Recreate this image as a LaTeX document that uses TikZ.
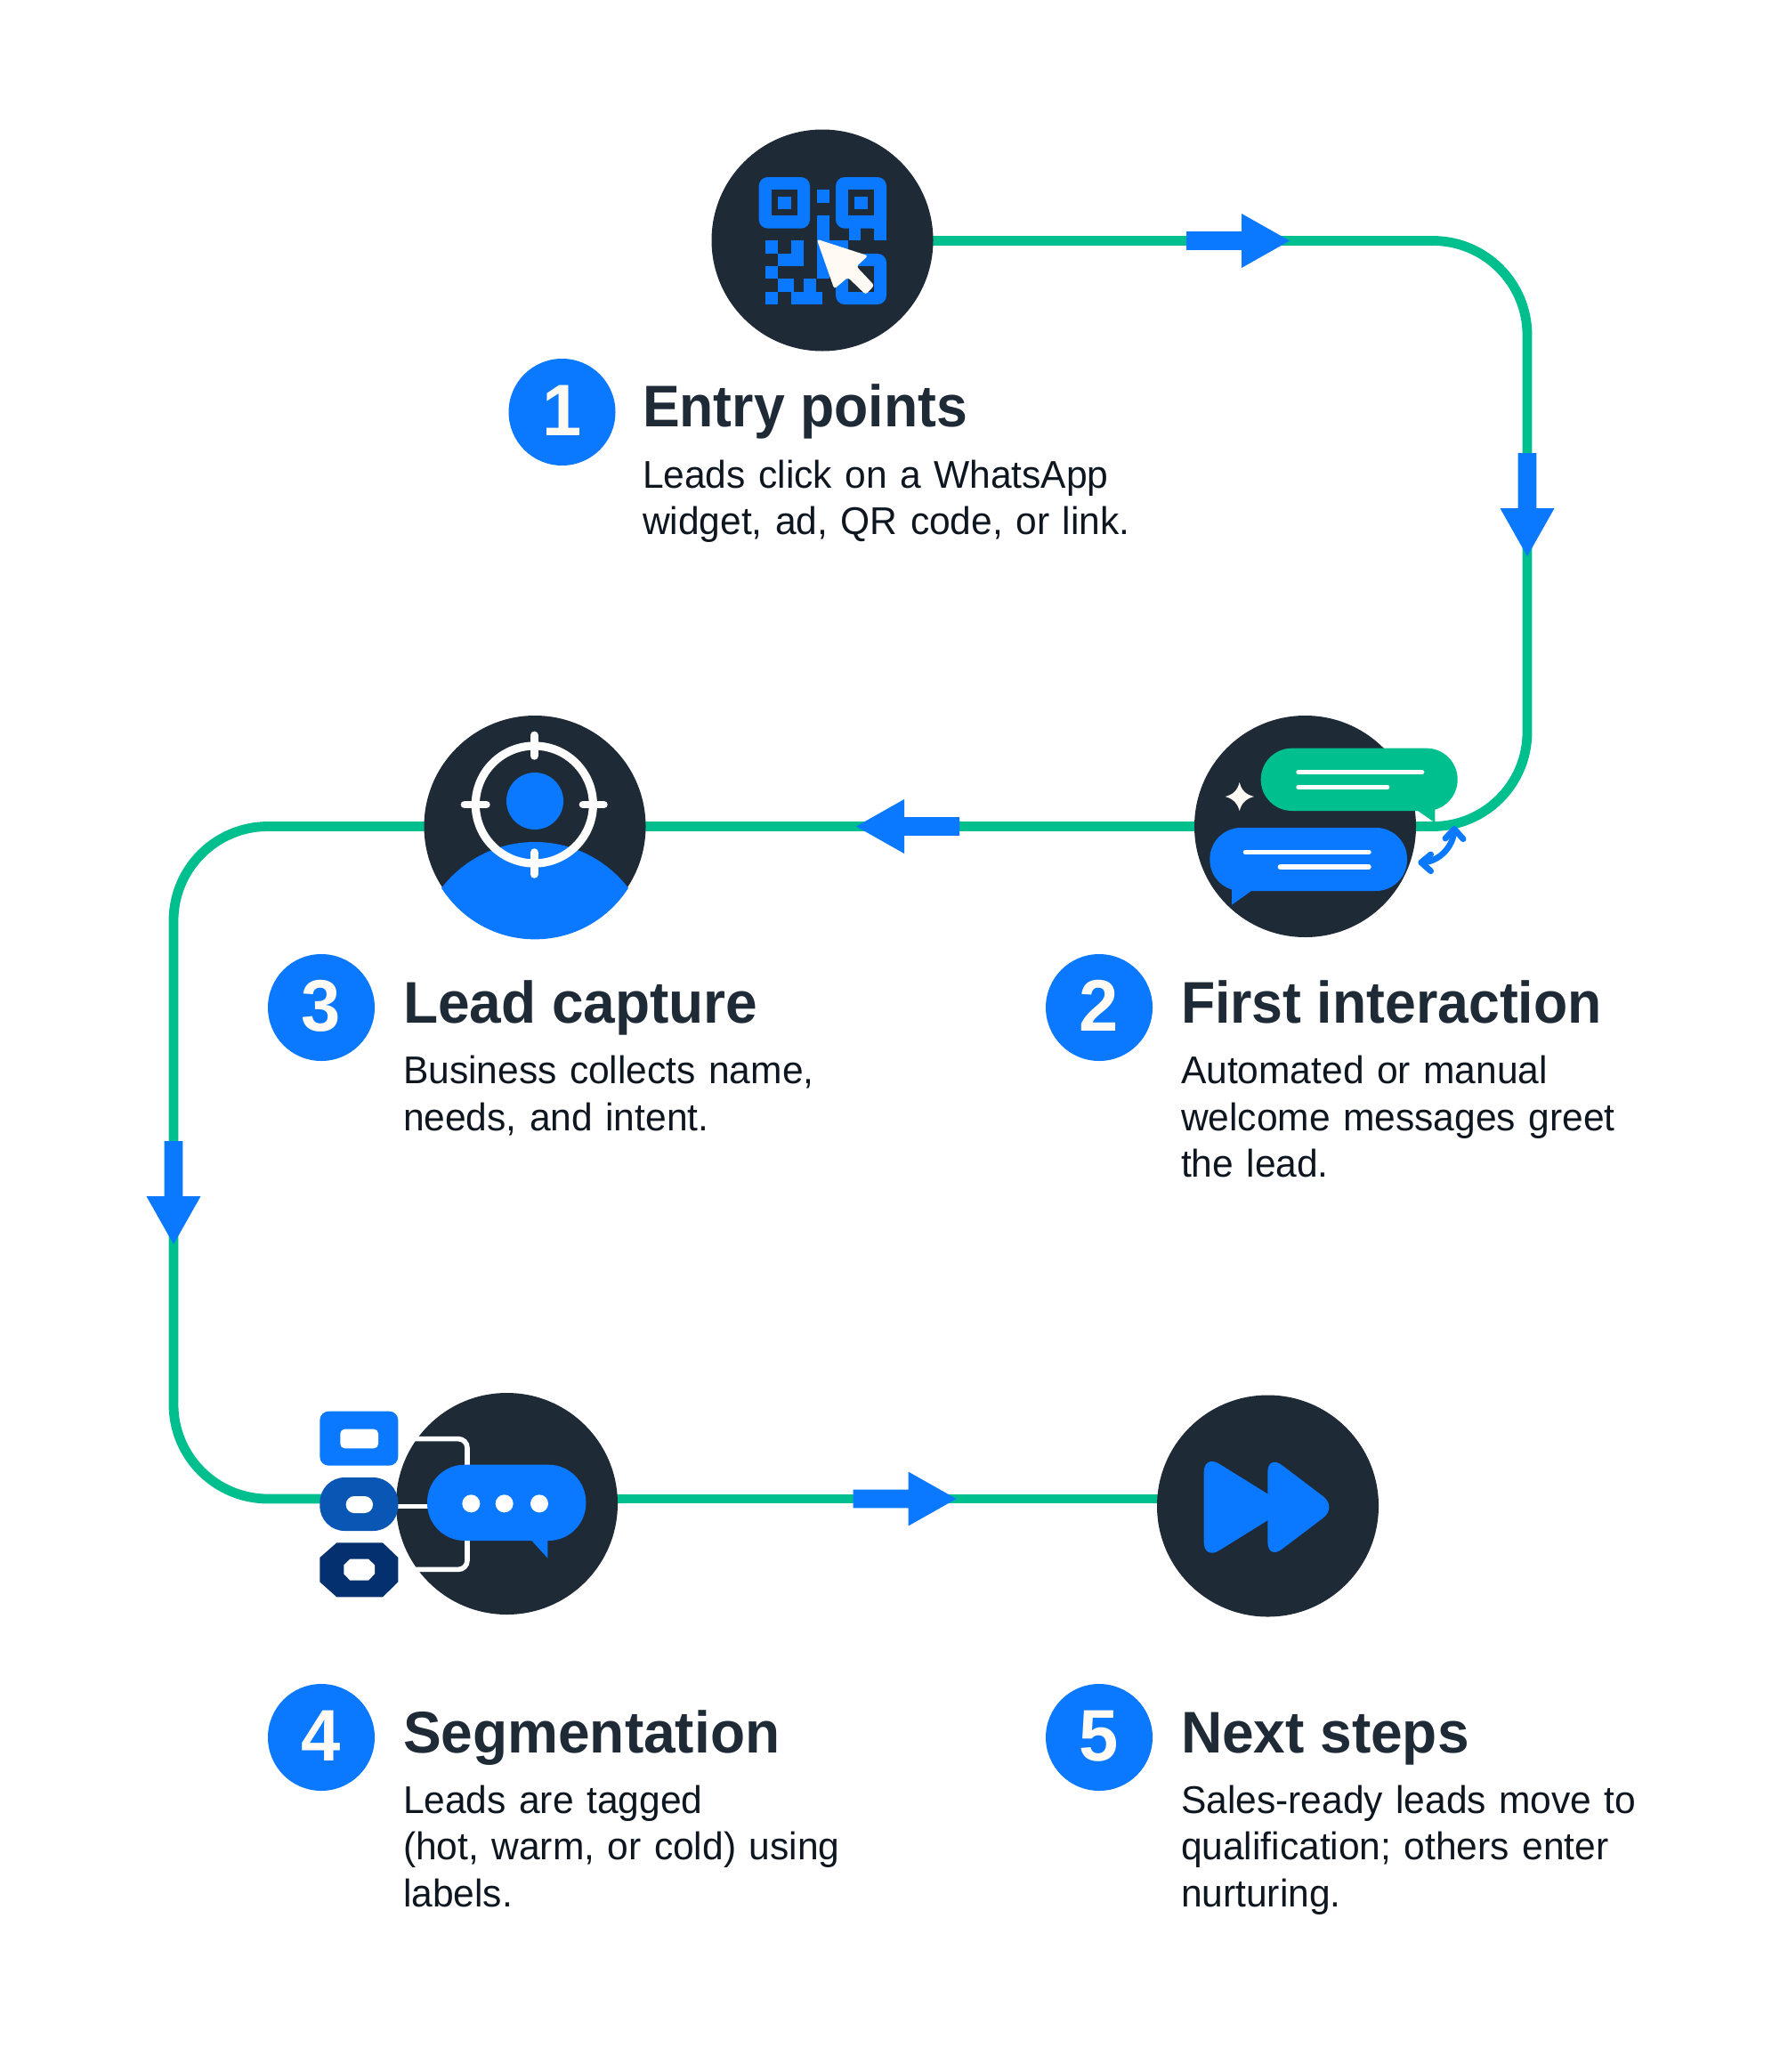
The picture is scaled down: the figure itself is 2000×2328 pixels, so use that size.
\documentclass[tikz,border=0pt]{standalone}
\usepackage{fontspec}
\setmainfont{Liberation Sans}[FakeStretch=0.98,WordSpace=0.9,BoldFeatures={FakeStretch=0.97,WordSpace=1}]
\newfontfamily\narrowhead{Liberation Sans}[BoldFeatures={FakeStretch=0.948}]
\definecolor{flowgreen}{HTML}{00BF8F}
\definecolor{mainblue}{HTML}{0A78FF}
\definecolor{midblue}{HTML}{0A56B5}
\definecolor{navy}{HTML}{04306F}
\definecolor{ink}{HTML}{1F2A37}
\definecolor{bodyink}{HTML}{0E1620}
\definecolor{cream}{HTML}{FFFAF3}
\tikzset{
  zu/.style={x=0.166667pt,y=-0.166667pt},
  flow/.style={draw=flowgreen,line width=5.4pt,rounded corners=53pt},
  disc/.style={circle,fill=ink,inner sep=0pt,outer sep=0pt,minimum size=124.5pt},
  badge/.style={circle,fill=mainblue,text=cream,inner sep=0pt,outer sep=0pt,minimum size=60pt,text depth=2pt,font=\fontsize{41}{41}\selectfont\bfseries},
  headline/.style={anchor=base west,inner sep=0pt,outer sep=0pt,text=ink,font=\fontsize{33}{33}\selectfont\bfseries},
  headnarrow/.style={headline,font=\narrowhead\fontsize{33}{33}\selectfont\bfseries},
  bodytext/.style={anchor=base west,inner sep=0pt,outer sep=0pt,text=bodyink,text width=300pt,align=left,font=\fontsize{21.7}{26.25}\selectfont},
  wline/.style={draw=white,line width=2.7pt,line cap=round},
  flowarrow/.pic={\fill[mainblue] (-116,-10.4) -- (-54,-10.4) -- (-54,-30.5) -- (0,0) -- (-54,30.5) -- (-54,10.4) -- (-116,10.4) -- cycle;},
}
\begin{document}
\begin{tikzpicture}[x=0.5pt,y=-0.5pt]
\useasboundingbox (0,0) rectangle (2000,2328);
\fill[white] (0,0) rectangle (2000,2328);
% anchor points
\coordinate (c1) at (924,270.5);
\coordinate (c2) at (1466.5,928.5);
\coordinate (c3) at (601,928.5);
\coordinate (c4) at (569.5,1689.5);
\coordinate (c5) at (1424.5,1692);
\coordinate (rightcol) at (1716,600);
\coordinate (leftcol) at (195,1300);
\coordinate (l4) at (569.5,1684);
\coordinate (l5) at (1424.5,1684);
% connectors
\draw[flow] (c1) -| (rightcol) |- (c2);
\draw[flow] (c2) -- (c3);
\draw[flow] (c3) -| (leftcol) |- (l4);
\draw[flow] (l4) -- (l5);
% arrows
\pic at (1449,270.5) {flowarrow};
\pic[rotate=-90] at (1716,625) {flowarrow};
\pic[rotate=180] at (962,928.5) {flowarrow};
\pic[rotate=-90] at (195,1398) {flowarrow};
\pic at (1074.5,1684) {flowarrow};
% discs
\node[disc] (n1) at (924,270) {};
\node[disc] (n2) at (c2) {};
\node[disc] (n3) at (c3) {};
\node[disc] (n4) at (c4) {};
\node[disc] (n5) at (c5) {};
% icon 1
\begin{scope}[shift={(780,130)},zu]
  \fill[mainblue,rounded corners=5pt] (218,207) rectangle (390,380);
  \fill[ink] (262,250) rectangle (347,337);
  \fill[mainblue] (283,272) rectangle (328,316);
  \fill[mainblue,rounded corners=5pt] (477,207) rectangle (648,380);
  \fill[mainblue] (600,350) rectangle (648,380);
  \fill[mainblue] (522,360) rectangle (562,420);
  \fill[mainblue] (605,360) rectangle (648,420);
  \fill[ink] (520,250) rectangle (605,337);
  \fill[mainblue] (540,272) rectangle (585,316);
  \fill[mainblue] (415,250) rectangle (455,293);
  \fill[mainblue] (415,337) rectangle (455,550);
  \fill[mainblue] (455,420) rectangle (520,465);
  \fill[mainblue] (240,420) rectangle (283,465);
  \fill[mainblue] (326,420) rectangle (369,465);
  \fill[mainblue] (283,465) rectangle (369,507);
  \fill[mainblue] (240,507) rectangle (283,550);
  \fill[mainblue] (283,550) rectangle (335,593);
  \fill[mainblue] (369,550) rectangle (412,593);
  \fill[mainblue] (240,593) rectangle (283,636);
  \fill[mainblue] (326,593) rectangle (433,636);
  \fill[mainblue,rounded corners=5pt] (477,465) rectangle (648,636);
  \fill[ink] (520,507) rectangle (605,593);
  \fill[cream,rounded corners=1.5pt] (413,416) -- (586,472) -- (547,508) -- (607,572) -- (578,603) -- (518,545) -- (472,584) -- cycle;
\end{scope}
% icon 2
\begin{scope}[shift={(1320,790)},zu]
  \fill[flowgreen] (815,360) -- (877,403) -- (877,350) -- cycle;
  \fill[flowgreen,rounded corners=17.5pt] (290,152) rectangle (953,363);
  \draw[wline] (417,233) -- (833,233);
  \draw[wline] (417,283) -- (716,283);
  \fill[mainblue] (192,620) -- (192,680) -- (262,630) -- cycle;
  \fill[mainblue,rounded corners=17.5pt] (118,420) rectangle (783,633);
  \draw[wline] (238,502) -- (654,502);
  \draw[wline] (355,552) -- (654,552);
  \fill[cream] (218,267) .. controls (225,295) and (240,308) .. (267,315) .. controls (240,322) and (225,337) .. (218,363) .. controls (211,337) and (196,322) .. (170,315) .. controls (196,308) and (211,295) .. (218,267) -- cycle;
  \draw[mainblue,line width=3.4pt,line cap=round,line join=round] (836,537) .. controls (885,535) and (938,490) .. (942,428);
  \draw[mainblue,line width=3.4pt,line cap=round,line join=round] (863,510) -- (830,537) -- (863,566);
  \draw[mainblue,line width=3.4pt,line cap=round,line join=round] (912,456) -- (942,424) -- (972,458);
\end{scope}
% icon 3
\begin{scope}[shift={(460,790)},zu]
  \begin{scope}
    \clip (423,423) circle (373);
    \fill[mainblue] (423,865) circle (397);
  \end{scope}
  \fill[mainblue] (423,330) circle (96);
  \draw[white,line width=4.6pt] (421,342) circle (198);
  \draw[wline,line width=4.4pt] (421,108) -- (421,178);
  \draw[wline,line width=4.4pt] (421,503) -- (421,577);
  \draw[wline,line width=4.4pt] (186,342) -- (259,342);
  \draw[wline,line width=4.4pt] (585,342) -- (655,342);
\end{scope}
% icon 4
\begin{scope}[shift={(340,1550)},zu]
  \draw[white,line width=2.8pt,rounded corners=5pt] (330,200) -- (555,200) -- (555,640) -- (330,640);
  \draw[white,line width=2.8pt] (320,428) -- (425,428);
  \fill[mainblue] (765,535) -- (826,602) -- (826,535) -- cycle;
  \fill[mainblue,rounded corners=21pt] (420,287) rectangle (955,543);
  \fill[white] (568,418) circle (30);
  \fill[white] (680,418) circle (30);
  \fill[white] (798,418) circle (30);
  \fill[mainblue,rounded corners=5pt] (58,107) rectangle (322,290);
  \fill[white,rounded corners=2.5pt] (127,167) rectangle (255,232);
  \fill[midblue,rounded corners=14pt] (58,330) rectangle (322,510);
  \fill[white,rounded corners=4.7pt] (146,393) rectangle (237,450);
  \fill[navy] (115,550) -- (270,550) -- (322,600) -- (322,682) -- (270,733) -- (115,733) -- (58,682) -- (58,600) -- cycle;
  \fill[white] (160,605) -- (222,605) -- (243,625) -- (243,655) -- (222,677) -- (160,677) -- (139,655) -- (139,625) -- cycle;
\end{scope}
% icon 5
\begin{scope}[shift={(1280,1550)},zu]
  \fill[mainblue,rounded corners=10pt] (218,252) -- (218,608) -- (505,430) -- cycle;
  \fill[mainblue,rounded corners=10pt] (433,252) -- (433,608) -- (668,430) -- cycle;
\end{scope}
% badges
\node[badge] (b1) at (631.5,463) {1};
\node[badge] (b2) at (1235,1132) {2};
\node[badge] (b3) at (361,1132) {3};
\node[badge] (b4) at (361,1952) {4};
\node[badge] (b5) at (1235,1952) {5};
% texts
\node[headnarrow] (t1) at (722,479) {Entry points};
\node[bodytext] (d1) at (722,548) {Leads click on a WhatsApp\\widget, ad, QR code, or link.};
\node[headnarrow] (t2) at (1327,1149) {First interaction};
\node[bodytext] (d2) at (1327,1217.5) {Automated or manual\\welcome messages greet\\the lead.};
\node[headline] (t3) at (453,1149) {Lead capture};
\node[bodytext] (d3) at (453,1217.5) {Business collects name,\\needs, and intent.};
\node[headline] (t4) at (453,1969) {Segmentation};
\node[bodytext] (d4) at (453,2037) {Leads are tagged\\(hot, warm, or cold) using\\labels.};
\node[headline] (t5) at (1327,1969) {Next steps};
\node[bodytext] (d5) at (1327,2037) {Sales-ready leads move to\\qualification; others enter\\nurturing.};
\end{tikzpicture}
\end{document}
